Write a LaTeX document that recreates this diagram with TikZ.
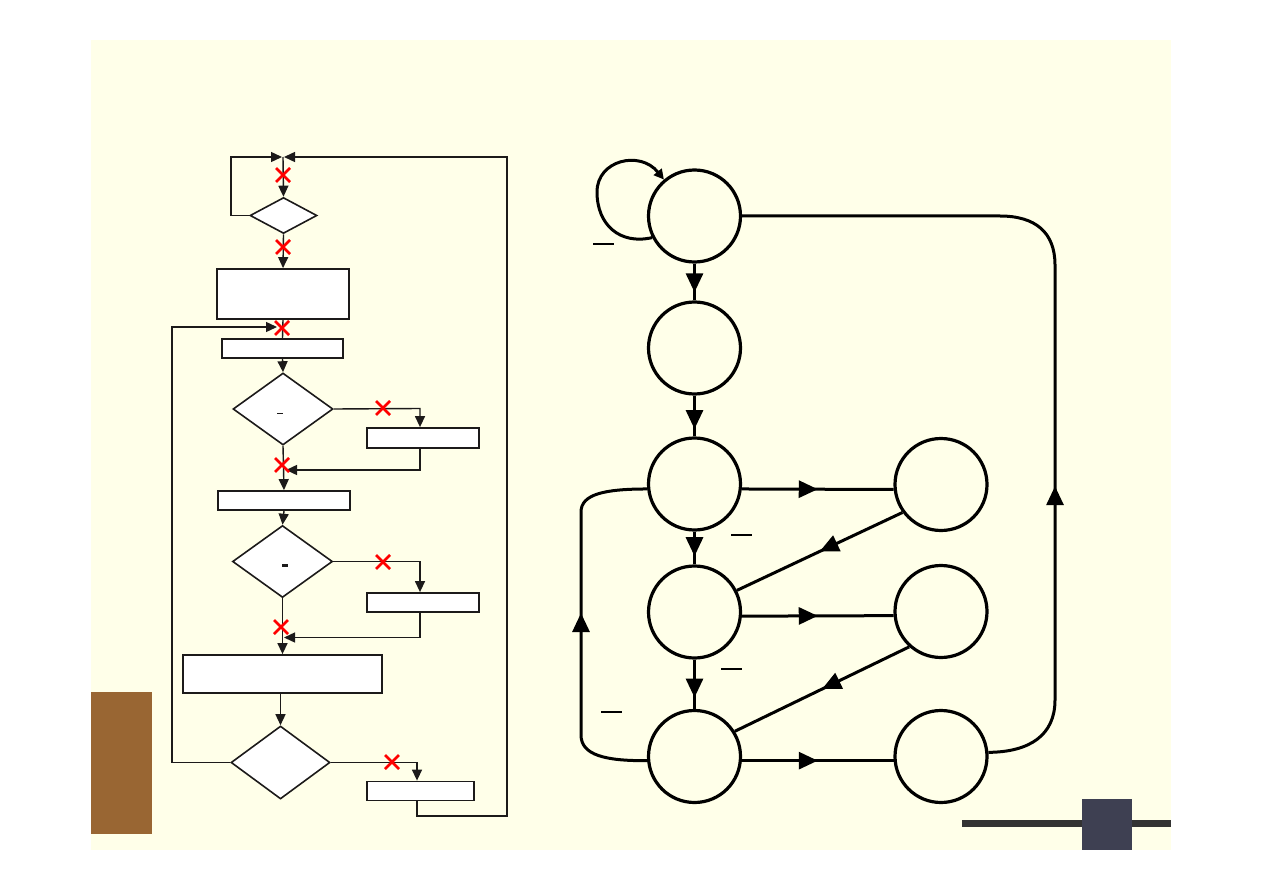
\documentclass[tikz,border=0pt]{standalone}
\usetikzlibrary{shapes.geometric,arrows.meta,decorations.markings}
\definecolor{slideCream}{RGB}{255,255,233}
\definecolor{flowInk}{RGB}{28,26,26}
\definecolor{barBrown}{RGB}{153,102,51}
\definecolor{barDark}{RGB}{51,51,51}
\definecolor{tileSlate}{RGB}{62,64,82}

\begin{document}
\begin{tikzpicture}[x=1pt, y=-1pt,
    flowbox/.style={rectangle, draw=flowInk, fill=white, line width=1.8pt, inner sep=0pt},
    flowdec/.style={diamond, draw=flowInk, fill=white, line width=1.6pt, inner sep=0pt},
    fline/.style={draw=flowInk, line width=1.4pt},
    farrow/.style={fline, -{Triangle[length=11pt,width=10pt]}},
    state/.style={circle, draw=black, line width=3.2pt, minimum size=92pt, inner sep=0pt},
    sline/.style={draw=black, line width=3pt},
    midarrow/.style={sline, postaction={decorate}, decoration={markings,
        mark=at position #1 with {\arrow{Triangle[length=19pt,width=17pt]}}}},
    redcross/.pic={\draw[red, line width=2.8pt] (-7,-7) -- (7,7) (-7,7) -- (7,-7);}
  ]
  \useasboundingbox (0,0) rectangle (1263,893);
  \fill[white] (0,0) rectangle (1263,893);
  \fill[slideCream] (91,40) rectangle (1171,850);
  \fill[barBrown] (91,692) rectangle (152,834);
  \fill[barDark] (962,820) rectangle (1171,827);
  \fill[tileSlate] (1082,799) rectangle (1132,850);

  % Flowchart
  \coordinate (join) at (283,157);
  \coordinate (entry) at (283,327);
  \node[flowdec, minimum width=67pt, minimum height=36pt] (d1) at (283.5,215.5) {};
  \node[flowbox, minimum width=132pt, minimum height=50pt] (b1) at (283,294) {};
  \node[flowbox, minimum width=121pt, minimum height=19pt] (b2) at (282.5,348.5) {};
  \node[flowdec, minimum width=100pt, minimum height=72pt] (d2) at (283,409) {};
  \node[flowbox, minimum width=112pt, minimum height=20pt] (b3) at (423,438) {};
  \node[flowbox, minimum width=132pt, minimum height=19pt] (b4) at (284,500.5) {};
  \node[flowdec, minimum width=100pt, minimum height=72pt] (d3) at (282.5,561.5) {};
  \node[flowbox, minimum width=112pt, minimum height=19pt] (b5) at (423,602.5) {};
  \node[flowbox, minimum width=199pt, minimum height=38pt] (b6) at (282.5,674) {};
  \node[flowdec, minimum width=99pt, minimum height=73pt] (d4) at (280.5,762.5) {};
  \node[flowbox, minimum width=107pt, minimum height=19pt] (b7) at (420.5,791) {};

  \draw[fline, line width=1pt] (277,413) -- (283,413);
  \draw[fline, line width=3pt] (282,565) -- (288,565);

  % Arrows
  \draw[farrow] (join) -- (d1.north);
  \draw[farrow] (d1.south) -- (b1.north);
  \draw[fline] (b1.south) -- (b2.north);
  \draw[farrow] (b2.south) -- (d2.north);
  \draw[farrow] (d2.south) -- (b4.north);
  \draw[farrow] (b4.south) -- (d3.north);
  \draw[farrow] (d3.south) -- (b6.north);
  \draw[farrow] (d4.north |- b6.south) -- (d4.north);

  \coordinate (loopTop) at (231,157);
  \draw[farrow] (d1.west) -| (loopTop) -- ([xshift=-1pt]join);

  \coordinate (side2) at (420,408.5);
  \coordinate (merge2) at (283,470);
  \draw[farrow] (d2.east) -- (side2) -- (side2 |- b3.north);
  \draw[farrow] (side2 |- b3.south) |- ([xshift=3pt]merge2);

  \coordinate (side3) at (420,561.5);
  \coordinate (merge3) at (281,637.5);
  \draw[farrow] (d3.east) -- (side3) -- (side3 |- b5.north);
  \draw[farrow] (side3 |- b5.south) |- ([xshift=3pt]merge3);

  \coordinate (side4) at (417,762.5);
  \coordinate (retR) at (507,816);
  \coordinate (retL) at (172,762.5);
  \draw[farrow] (d4.east) -- (side4) -- (side4 |- b7.north);
  \draw[farrow] (side4 |- b7.south) |- (retR) |- ([xshift=1pt]join);
  \draw[farrow] (d4.west) -- (retL) |- ([xshift=-6pt]entry);

  \foreach \pos in {(283,175),(283,247),(282,328),(383,408),(282,465),(383,562),(281,627),(392,762)}
    \pic at \pos {redcross};

  % State diagram
  \node[state] (s0) at (694.5,216) {};
  \node[state] (s1) at (694.5,348) {};
  \node[state] (s2) at (694.5,484) {};
  \node[state] (s3) at (694.5,612) {};
  \node[state] (s4) at (694.5,756.5) {};
  \node[state] (r1) at (941,484.5) {};
  \node[state] (r2) at (941,611.5) {};
  \node[state] (r3) at (941,756.5) {};

  \draw[midarrow=0.78] (s0) -- (s1);
  \draw[midarrow=0.82] (s1) -- (s2);
  \draw[midarrow=0.75] (s2) -- (s3);
  \draw[midarrow=0.77] (s3) -- (s4);
  \draw[midarrow=0.5] (s2.-6) -- (r1.186);
  \draw[midarrow=0.5] (r1.216) -- (s3.27);
  \draw[midarrow=0.5] (s3.-5) -- (r2.185);
  \draw[midarrow=0.5] (r2.228) -- (s4.32);
  \draw[midarrow=0.5] (s4.-5) -- (r3.185);
  \draw[midarrow=0.53] (s4.185) .. controls (605,761) and (581,755) .. (581,735)
    -- (581,512) .. controls (581,494) and (605,489) .. (s2.186);
  \draw[midarrow=0.355] (r3.5) .. controls (1030,752) and (1055,735) .. (1055,700)
    -- (1055,265) .. controls (1055,232) and (1035,216) .. (1000,216) -- (s0.east);
  \draw[sline, -{Triangle[length=10pt,width=10pt]}] (s0.207)
    .. controls (620,245) and (597,225) .. (597,192)
    .. controls (597,160) and (640,150) .. (s0.130);

  \draw[line width=1.3pt] (593,244) -- (614,244);
  \draw[line width=1.3pt] (731,535) -- (752,535);
  \draw[line width=1.3pt] (721,669) -- (742,669);
  \draw[line width=1.3pt] (601,712) -- (622,712);
\end{tikzpicture}
\end{document}
